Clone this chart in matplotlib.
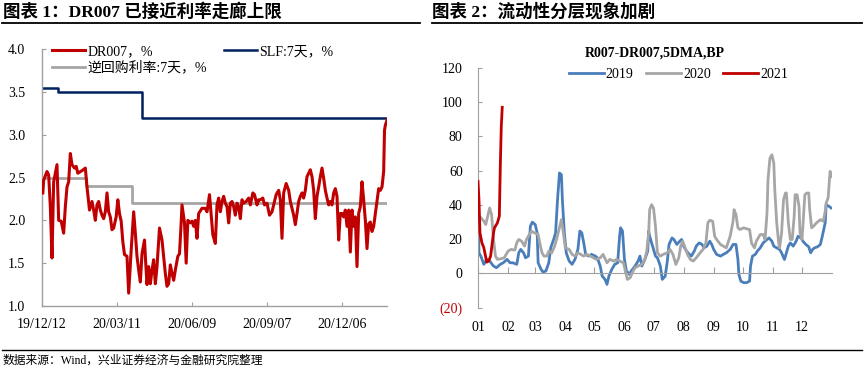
import matplotlib
matplotlib.use("Agg")
import matplotlib.pyplot as plt
from matplotlib.lines import Line2D
import pandas as pd

plt.rcParams['font.family'] = ['Liberation Serif', 'Noto Sans CJK SC']
plt.rcParams['axes.unicode_minus'] = False

# ---------------- Chart 1 data ----------------
start_date = "2019-12-12"
dr007_days = [1, 2, 6, 8, 10, 12, 14, 16, 18, 20,
              23, 26, 28, 30, 32, 34, 36, 39, 41, 43,
              48, 52, 54, 57, 60, 62, 64, 66, 68, 70,
              72, 74, 76, 78, 80, 82, 84, 86, 89, 91,
              93, 95, 97, 99, 102, 104, 107, 110, 112, 114,
              116, 118, 120, 123, 124, 126, 128, 130, 132, 134,
              136, 138, 141, 144, 146, 148, 150, 152, 154, 156,
              158, 160, 163, 165, 167, 168, 171, 173, 175, 178,
              180, 182, 184, 186, 188, 192, 196, 198, 201, 203,
              205, 208, 210, 212, 214, 216, 218, 220, 222, 224,
              226, 228, 230, 232, 234, 236, 238, 240, 242, 245,
              248, 250, 253, 255, 258, 260, 262, 265, 267, 270,
              273, 276, 278, 281, 284, 286, 288, 290, 293, 296,
              298, 302, 304, 306, 308, 310, 312, 314, 316, 318,
              320, 322, 324, 326, 328, 330, 332, 334, 336, 338,
              340, 342, 344, 346, 348, 350, 352, 354, 356, 358,
              360, 362, 364, 366, 368, 370, 372, 374, 376, 378,
              380, 382, 384, 386, 388, 390, 392, 394, 396, 398,
              400, 402, 404, 406, 408, 410, 411, 412, 414]
dr007_vals = [2.32, 2.47, 2.57, 2.53, 2.16, 1.56, 2.45, 2.55, 2.65, 2.00,
              1.99, 1.85, 2.16, 2.39, 2.45, 2.78, 2.65, 2.61, 2.63, 2.55,
              2.58, 2.61, 2.39, 2.12, 2.22, 2.12, 2.00, 2.18, 2.22, 2.12,
              2.06, 2.02, 2.10, 2.32, 2.10, 2.04, 1.89, 1.91, 2.04, 2.24,
              2.08, 1.99, 1.75, 1.60, 1.58, 1.15, 1.65, 2.10, 1.85, 1.58,
              1.42, 1.28, 1.61, 1.77, 1.58, 1.25, 1.46, 1.26, 1.42, 1.54,
              1.26, 1.46, 1.91, 1.77, 1.58, 1.38, 1.23, 1.26, 1.48, 1.38,
              1.30, 1.42, 1.58, 1.61, 1.97, 2.18, 1.97, 1.50, 2.00, 1.97,
              1.99, 1.93, 2.00, 1.79, 2.08, 2.14, 2.14, 2.10, 2.30, 2.06,
              1.83, 1.73, 2.18, 2.26, 2.10, 2.22, 2.28, 2.20, 2.16, 1.97,
              2.20, 2.22, 2.16, 2.06, 2.20, 2.16, 2.02, 2.24, 2.20, 2.22,
              2.26, 2.18, 2.32, 2.30, 2.18, 2.24, 2.24, 2.26, 2.18, 2.20,
              2.06, 2.10, 2.18, 2.30, 2.35, 2.24, 1.79, 2.32, 2.43, 2.35,
              2.22, 2.06, 1.95, 2.08, 2.22, 2.28, 2.32, 2.26, 2.35, 2.51,
              2.55, 2.59, 2.51, 2.35, 2.02, 2.28, 2.39, 2.51, 2.61, 2.49,
              2.35, 2.26, 2.18, 2.22, 2.18, 2.32, 2.37, 2.28, 1.77, 2.08,
              2.08, 2.04, 2.12, 1.93, 2.12, 1.63, 2.12, 1.93, 2.04, 1.46,
              2.08, 2.16, 2.45, 2.24, 2.00, 1.67, 1.96, 1.98, 1.87, 1.93,
              2.08, 2.22, 2.37, 2.35, 2.39, 2.57, 3.05, 3.11, 3.17]
slf_days = [0, 19, 120, 414]
slf_vals = [3.55, 3.50, 3.20, 3.20]
rr_days = [0, 53, 108, 414]
rr_vals = [2.50, 2.40, 2.20, 2.20]
left_ticks = [1.0, 1.5, 2.0, 2.5, 3.0, 3.5, 4.0]
date_tick_labels = ["19/12/12", "20/03/11", "20/06/09", "20/09/07", "20/12/06"]

# ---------------- Chart 2 data ----------------
y2019_days = [0, 1, 3, 6, 9, 12, 16, 19, 23, 26, 30, 33, 36, 40, 42, 44, 47, 49, 52, 54,
              56, 59, 61, 62, 65, 67, 70, 73, 75, 78, 80, 82, 84, 86, 87, 89, 91, 94, 97, 100,
              103, 105, 107, 109, 111, 114, 117, 121, 123, 126, 128, 131, 133, 135, 138, 141, 144, 146, 147, 149,
              151, 153, 156, 158, 162, 165, 167, 169, 172, 175, 176, 177, 180, 183, 185, 188, 190, 193, 195, 197,
              200, 202, 205, 208, 210, 212, 215, 218, 220, 223, 225, 228, 231, 233, 236, 239, 241, 243, 246, 250,
              253, 256, 260, 263, 266, 268, 269, 271, 274, 277, 280, 281, 283, 286, 288, 291, 294, 298, 300, 303,
              305, 308, 311, 313, 316, 318, 320, 322, 325, 328, 330, 333, 335, 338, 341, 343, 345, 347, 350, 353,
              355, 358, 359, 362, 364]
y2019_vals = [42, 12, 10, 5.3, 8.2, 7.2, 4.3, 3.3, 5.3, 6.2, 8.2, 6.2, 6.2, 5.3, 12, 14, 12, 9.1, 10.1, 27.5,
              29.9, 28.5, 23.7, 6.2, 2.4, 0.8, 1.4, 6.2, 15, 19.8, 23.7, 43, 58.6, 57.6, 43, 23.7, 12, 7.2, 5.3, 8.2,
              14, 24.7, 23.7, 17.9, 11.1, 10.1, 11.1, 10.1, 9.1, 4.3, -1.5, -3.5, -6.4, -1.5, 2.4, 5.3, 6.2, 21.7, 26.6, 24.7,
              8.2, 1.4, -0.5, 1.4, 4.3, 7.2, 10.1, 4.3, 8.2, 13, 24.7, 21.7, 15.9, 10.1, 9.1, 4.3, -3.5, -1.6, 6.2, 16.9,
              20.7, 19.8, 16.9, 18.8, 19.8, 15.9, 13, 11.1, 10.1, 13, 15.9, 17.8, 16.9, 14.9, 15.9, 18.8, 16.9, 14, 11.1, 10.1,
              11.1, 12, 14, 16.9, 16.9, 8.1, -0.6, -4.5, -5.4, -5.4, -4.5, 4.3, 10.1, 11.1, 13, 14.9, 17.8, 19.8, 20.7, 18.8,
              15.9, 14.9, 14, 12, 8.1, 12, 15.9, 17.8, 15.9, 18.8, 21.7, 20.7, 18.8, 16.9, 15.5, 12, 14, 14.9, 15.5, 16.9,
              21.7, 29.5, 40.1, 39.1, 38.2]
y2020_days = [0, 3, 6, 8, 10, 12, 14, 16, 18, 20, 24, 27, 31, 34, 38, 40, 42, 45, 48, 50,
              53, 55, 58, 62, 64, 66, 68, 71, 73, 76, 79, 81, 84, 86, 88, 90, 94, 97, 100, 103,
              106, 109, 112, 116, 119, 122, 126, 129, 133, 136, 140, 143, 146, 150, 152, 154, 157, 159, 162, 165,
              169, 172, 174, 176, 177, 179, 181, 183, 185, 188, 191, 195, 198, 201, 204, 207, 209, 211, 213, 216,
              219, 222, 225, 229, 232, 235, 237, 239, 242, 244, 246, 250, 253, 256, 260, 263, 264, 266, 268, 270,
              274, 277, 280, 282, 285, 287, 291, 294, 296, 298, 299, 301, 303, 305, 306, 308, 310, 311, 313, 315,
              317, 318, 320, 322, 324, 326, 327, 329, 331, 332, 334, 335, 337, 339, 341, 342, 344, 346, 349, 351,
              353, 354, 356, 358, 359, 361, 363, 365]
y2020_vals = [34.3, 32.4, 30.5, 28.5, 33.4, 38.2, 34.3, 19.8, 10.1, 8.2, 8.6, 9.1, 13, 14, 13.6, 17.9, 19.8, 18.8, 15.9, 19.8,
              22.7, 24.7, 23.7, 22.7, 16.9, 12, 10.1, 10.1, 13, 12, 15.9, 19.8, 26.6, 31.4, 23.7, 15, 14, 11.1, 10.1, 12,
              11.1, 10.1, 11.1, 10.1, 9.1, 8.2, 9.1, 11.1, 6.2, 8.2, 7.2, 8.2, 7.2, 6.2, 1.4, -3.5, -2.5, 0.4, 3.3, 4.3,
              5.3, 8.2, 13, 23.7, 37.2, 40.1, 38, 27.5, 12, 10.1, 11.1, 12, 14, 11.1, 5.2, 9.1, 15.9, 18.8, 15.9, 11.1,
              8.1, 7.2, 9.1, 12, 14, 17.8, 29.5, 31, 30.4, 21.7, 19.8, 16.9, 15.9, 14.9, 21.7, 30.4, 37.2, 34.3, 26.6, 25.6,
              26.6, 26, 25.6, 17.8, 14.9, 18.8, 22.7, 22.7, 19.8, 35.3, 54.6, 67.2, 69.2, 64.3, 48.8, 29.5, 17.8, 14.9, 23.6, 43,
              46.9, 46.9, 29.5, 19.8, 19.8, 33.3, 45.9, 45.9, 39.1, 23.6, 19.8, 27.5, 45.9, 46.9, 46.9, 37.2, 26.6, 27.5, 29.5, 30.4,
              31.4, 31, 30.4, 36.2, 41.1, 44, 59.5, 56.6]
y2021_days = [0, 1, 2, 4, 6, 9, 11, 13, 16, 17, 20, 22, 23, 24, 25]
y2021_vals = [53.7, 43.1, 23.7, 17.9, 15.0, 6.6, 7.2, 10.1, 23.7, 26.6, 29.5, 33.4, 62.4, 85.7, 96.9]
month_labels = ["01", "02", "03", "04", "05", "06", "07", "08", "09", "10", "11", "12"]
month_start_doy = [0, 31, 59, 90, 120, 151, 181, 212, 243, 273, 304, 334]
right_ticks = [-20, 0, 20, 40, 60, 80, 100, 120]

RED = "#C00000"
NAVY = "#002060"
GRAY = "#A6A6A6"
BLUE = "#4A7EBB"
AXC = "#A0A0A0"

W, H = 864, 367
fig = plt.figure(figsize=(W / 100, H / 100), dpi=100)

def fx(px):
    return px / W

def fy(py):
    return 1 - py / H

# ---------------- Left axes ----------------
ax1 = fig.add_axes([fx(42), fy(306), fx(387 - 42), (306 - 49) / H])
t0 = pd.Timestamp(start_date)
dr_dates = t0 + pd.to_timedelta(dr007_days, unit="D")
slf_dates = t0 + pd.to_timedelta(slf_days, unit="D")
rr_dates = t0 + pd.to_timedelta(rr_days, unit="D")

l_slf, = ax1.plot(slf_dates, slf_vals, color=NAVY, lw=1.8, drawstyle="steps-post", zorder=2)
l_rr, = ax1.plot(rr_dates, rr_vals, color=GRAY, lw=2.0, drawstyle="steps-post", zorder=3)
l_dr, = ax1.plot(dr_dates, dr007_vals, color=RED, lw=2.2, zorder=4, solid_joinstyle="round")

ax1.set_xlim(t0, t0 + pd.Timedelta(days=414))
ax1.set_ylim(1.0, 4.0)
ax1.set_yticks(left_ticks, [f"{v:.1f}" for v in left_ticks])
tick_dates = [pd.Timestamp("20" + s[0:2] + "-" + s[3:5] + "-" + s[6:8]) for s in date_tick_labels]
ax1.set_xticks(tick_dates, date_tick_labels)
for s in ["top", "right"]:
    ax1.spines[s].set_visible(False)
for s in ["left", "bottom"]:
    ax1.spines[s].set_color(AXC)
    ax1.spines[s].set_linewidth(1.0)
ax1.tick_params(axis="x", direction="in", length=3, color=AXC, labelsize=10, pad=9)
ax1.tick_params(axis="y", direction="in", length=3, color=AXC, labelsize=10, pad=12)

fig.legend([l_dr, l_rr, l_slf], ["DR007，%", "逆回购利率:7天，%", "SLF:7天，%"],
           ncol=2, loc="upper left", bbox_to_anchor=(fx(52), fy(45)),
           frameon=False, fontsize=10, handlelength=2.4, handletextpad=0.15,
           labelspacing=0.2, columnspacing=1.2, borderpad=0, borderaxespad=0)

# ---------------- Right axes ----------------
ax2 = fig.add_axes([fx(478), fy(307.7), fx(832 - 478), (307.7 - 67.7) / H])
h19, = ax2.plot(y2019_days, y2019_vals, color=BLUE, lw=2.0, solid_joinstyle="round", zorder=2)
h20, = ax2.plot(y2020_days, y2020_vals, color=GRAY, lw=2.0, solid_joinstyle="round", zorder=3)
h21, = ax2.plot(y2021_days, y2021_vals, color=RED, lw=2.0, solid_joinstyle="round", zorder=4)
ax2.set_xlim(0, 365)
ax2.set_ylim(-20, 120)
ylabels = [f"({abs(v)})" if v < 0 else f"{v}" for v in right_ticks]
ax2.set_yticks(right_ticks, ylabels)
for lab, v in zip(ax2.get_yticklabels(), right_ticks):
    if v < 0:
        lab.set_color(RED)
ax2.set_xticks(month_start_doy, month_labels)
ax2.spines["top"].set_visible(False)
ax2.spines["right"].set_visible(False)
ax2.spines["left"].set_color(AXC)
ax2.spines["bottom"].set_color(AXC)
ax2.spines["bottom"].set_position(("data", 0))
ax2.tick_params(axis="y", direction="in", length=3, color=AXC, labelsize=10, pad=11)
ax2.tick_params(axis="x", direction="in", length=4, color=AXC, labelsize=10, pad=34)
ax2.set_title("R007-DR007,5DMA,BP", fontsize=10, fontweight="bold", pad=0,
              y=(307.7 - 57) / (307.7 - 67.7))

fig.legend([h19, h20, h21], ["2019", "2020", "2021"], ncol=3, loc="center left",
           bbox_to_anchor=(fx(569), fy(74)), frameon=False, fontsize=10,
           handlelength=2.5, handletextpad=0.15, columnspacing=0.9, borderpad=0, borderaxespad=0)

# ---------------- Titles, rules, source ----------------
fig.text(fx(3), fy(12), "图表 1：DR007 已接近利率走廊上限", fontsize=12.6, fontweight="bold",
         ha="left", va="center")
fig.text(fx(432), fy(12), "图表 2：流动性分层现象加剧", fontsize=12.6, fontweight="bold",
         ha="left", va="center")
fig.add_artist(Line2D([fx(2), fx(420)], [fy(22.5), fy(22.5)], color="black", lw=1.3))
fig.add_artist(Line2D([fx(432), fx(862)], [fy(22.5), fy(22.5)], color="black", lw=1.3))
fig.add_artist(Line2D([fx(2), fx(862)], [fy(350), fy(350)], color="black", lw=1.0))
fig.text(fx(3), fy(361), "数据来源：Wind，兴业证券经济与金融研究院整理", fontsize=8.5,
         ha="left", va="center")

fig.savefig("out.png", dpi=100)
